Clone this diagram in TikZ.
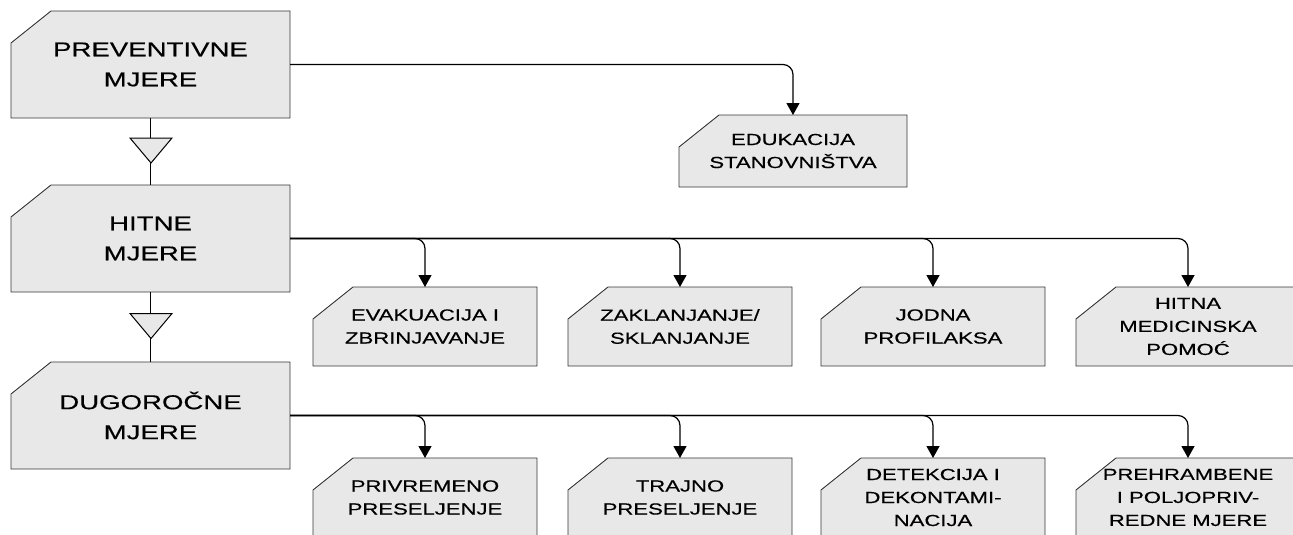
\documentclass[tikz,border=0pt]{standalone}
\usepackage{fontspec}
\setmainfont{Liberation Sans}[FakeStretch=1.38,FakeBold=0.4]
\usetikzlibrary{arrows.meta}
\tikzset{
  boxshape/.style={fill=black!9, draw=black!78, line width=0.9pt, line join=miter},
  boxlabel/.style={inner sep=0pt, outer sep=0pt, align=center, text=black},
  bigtext/.style={boxlabel, font=\fontsize{20}{30}\selectfont},
  smalltext/.style={boxlabel, font=\fontsize{16}{23}\selectfont},
  conn/.style={draw=black, line width=1.2pt, rounded corners=10pt,
    -{Triangle[width=13pt,length=12pt]}},
  vline/.style={draw=black, line width=1.2pt},
  tri/.style={fill=black!9, draw=black, line width=1pt, line join=miter}
}
% #1 name, #2 cx, #3 cy, #4 w, #5 h, #6 style, #7 text
\newcommand\cutbox[7]{%
  \filldraw[boxshape] ({#2-#4/2},{#3+#5/2}) -- ({#2-#4/2},{#3-#5/2+32})
    -- ({#2-#4/2+40},{#3-#5/2}) -- ({#2+#4/2},{#3-#5/2})
    -- ({#2+#4/2},{#3+#5/2}) -- cycle;
  \node[#6, minimum width=#4pt, minimum height=#5pt] (#1) at (#2,#3) {#7};}
\newcommand\downtri[1]{%
  \filldraw[tri] ([shift={(-21,-12.5)}]#1) -- ([shift={(21,-12.5)}]#1)
    -- ([shift={(0,12.5)}]#1) -- cycle;}
\begin{document}
\begin{tikzpicture}[x=1pt,y=-1pt]
\useasboundingbox (0,0) rectangle (1293,535);
\fill[white] (0,0) rectangle (1293,535);
\clip (0,0) rectangle (1293,535);

% main column
\cutbox{pm}{150.5}{64.5}{279}{107}{bigtext}{PREVENTIVNE\\MJERE}
\cutbox{hm}{150.5}{238.5}{279}{107}{bigtext}{HITNE\\MJERE}
\cutbox{dm}{150.5}{415.5}{279}{107}{bigtext}{DUGOROČNE\\MJERE}

% children
\cutbox{edu}{793}{151}{228}{72}{smalltext}{EDUKACIJA\\STANOVNIŠTVA}

\cutbox{ev}{425}{326.5}{224}{79}{smalltext}{EVAKUACIJA I\\ZBRINJAVANJE}
\cutbox{za}{680}{326.5}{224}{79}{smalltext}{ZAKLANJANJE/\\SKLANJANJE}
\cutbox{jo}{933}{326.5}{224}{79}{smalltext}{JODNA\\PROFILAKSA}
\cutbox{hmp}{1188}{326.5}{224}{79}{smalltext}{HITNA\\MEDICINSKA\\POMOĆ}

\cutbox{pr}{425}{497.5}{224}{79}{smalltext}{PRIVREMENO\\PRESELJENJE}
\cutbox{tr}{680}{497.5}{224}{79}{smalltext}{TRAJNO\\PRESELJENJE}
\cutbox{de}{933}{497.5}{224}{79}{smalltext}{DETEKCIJA I\\DEKONTAMI-\\NACIJA}
\cutbox{ph}{1188}{497.5}{224}{79}{smalltext}{PREHRAMBENE\\I POLJOPRIV-\\REDNE MJERE}

% vertical links with triangles
\draw[vline] (pm.south) -- (hm.north);
\draw[vline] (hm.south) -- (dm.north);
\coordinate (t1) at (151,150.5);
\coordinate (t2) at (151,326);
\downtri{t1}
\downtri{t2}

% connectors
\draw[conn] (pm.east) -| (edu.north);
\foreach \c in {ev,za,jo,hmp} \draw[conn] (hm.east) -| (\c.north);
\foreach \c in {pr,tr,de,ph} \draw[conn] (dm.east) -| (\c.north);
\end{tikzpicture}
\end{document}
